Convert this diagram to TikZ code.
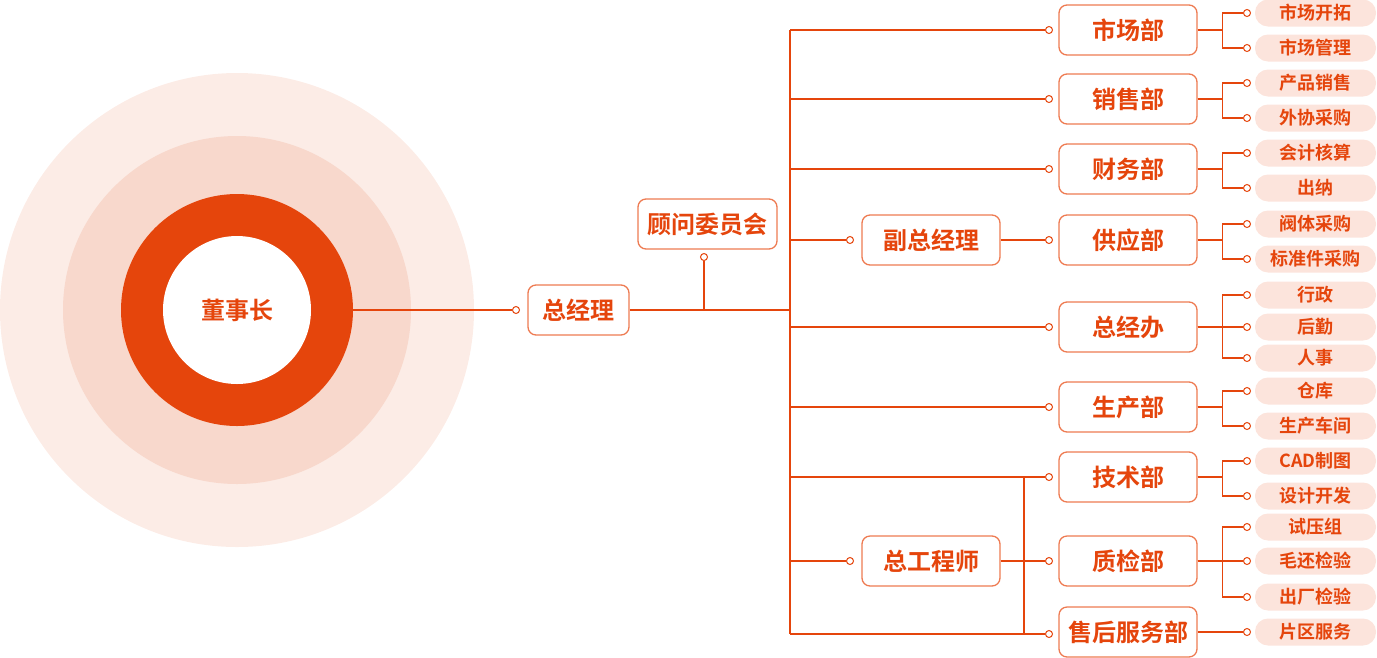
\documentclass[tikz,border=0pt]{standalone}
\usepackage{fontspec}
\setmainfont{Noto Sans CJK SC}[BoldFont={Noto Sans CJK SC Bold}]
\definecolor{org}{HTML}{E5450C}
\definecolor{bord}{HTML}{EE7B52}
\definecolor{leaff}{HTML}{FCE4DC}
\definecolor{outerc}{HTML}{FCECE6}
\definecolor{midc}{HTML}{F8D8CC}
\begin{document}
\begin{tikzpicture}[x=1pt,y=-1pt,
  conn/.style={draw=org, line width=1.2pt},
  dept/.style={draw=bord, line width=1.3pt, fill=white, rounded corners=8pt,
    minimum width=138pt, minimum height=50pt, text=org, inner sep=0pt,
    font=\bfseries\fontsize{24}{24}\selectfont},
  leaf/.style={fill=leaff, rounded corners=13pt, minimum width=121pt,
    minimum height=27pt, text=org, inner sep=0pt,
    font=\bfseries\fontsize{18}{18}\selectfont},
  dot/.style={circle, draw=org, fill=white, line width=1pt, inner sep=0pt,
    minimum size=7pt}]
\useasboundingbox (0,0) rectangle (1377,657);
% circles
\fill[outerc] (237,310) circle[radius=237];
\fill[midc] (237,310) circle[radius=174];
\node[circle, fill=org, minimum size=232pt, inner sep=0pt] (ring) at (237,310) {};
\node[circle, fill=white, minimum size=148pt, inner sep=0pt, text=org,
  font=\bfseries\fontsize{24}{24}\selectfont] (dsz) at (237,310) {董事长};
% main nodes
\node[dot] (pzjl) at (516,310) {};
\node[dept, minimum width=101pt] (zjl) at (578.5,310) {总经理};
\node[dept, minimum width=139pt] (gw) at (707.5,224) {顾问委员会};
\node[dot] (pgw) at (704,257) {};
\node[dept] (fzjl) at (931,240) {副总经理};
\node[dot] (pfz) at (850,240) {};
\node[dept] (zgcs) at (931,561) {总工程师};
\node[dot] (pzg) at (850,561) {};
% departments
\foreach \n/\y/\t in {1/30/市场部, 2/99/销售部, 3/169/财务部, 4/240/供应部,
  5/327/总经办, 6/407/生产部, 7/477/技术部, 8/561/质检部, 9/632/售后服务部} {
  \node[dept] (d\n) at (1128,\y) {\t};
}
\foreach \n/\y in {1/30, 2/99, 3/169, 4/240, 5/327, 6/407, 7/477, 8/561, 9/634} {
  \node[dot] (p\n) at (1049,\y) {};
}
% leaves
\foreach \n/\y/\t in {a/13/市场开拓, b/48/市场管理, c/83/产品销售, d/118/外协采购,
  e/153/会计核算, f/188/出纳, g/224/阀体采购, h/259/标准件采购, i/295/行政,
  j/327/后勤, k/358/人事, l/391/仓库, m/426/生产车间, n/461/CAD制图,
  o/496/设计开发, p/527/试压组, q/561/毛还检验, r/597/出厂检验, s/632/片区服务} {
  \node[leaf] (l\n) at (1315.5,\y) {\t};
  \node[dot] (q\n) at (1247,\y) {};
}
% connectors
\coordinate (busT) at (790,30);
\coordinate (busB) at (790,634);
\draw[conn] (ring) -- (pzjl);
\draw[conn] (zjl.east) -- (zjl.east -| busT);
\draw[conn] (pgw) -- (pgw |- zjl);
\draw[conn] (busT) -- (busB);
\foreach \n in {1,2,3,5,6,7,9} \draw[conn] (busT |- p\n) -- (p\n);
\draw[conn] (busT |- pfz) -- (pfz);
\draw[conn] (busT |- pzg) -- (pzg);
\draw[conn] (fzjl) -- (p4);
\draw[conn] (zgcs) -- (p8);
\coordinate (zgT) at (1024,477);
\draw[conn] (zgT) -- (zgT |- busB);
\foreach \dp/\lf in {1/a,1/b,2/c,2/d,3/e,3/f,4/g,4/h,5/i,5/j,5/k,6/l,6/m,7/n,7/o,8/p,8/q,8/r,9/s}
  \draw[conn] (d\dp.east) -- ++(25,0) |- (q\lf);
\end{tikzpicture}
\end{document}
